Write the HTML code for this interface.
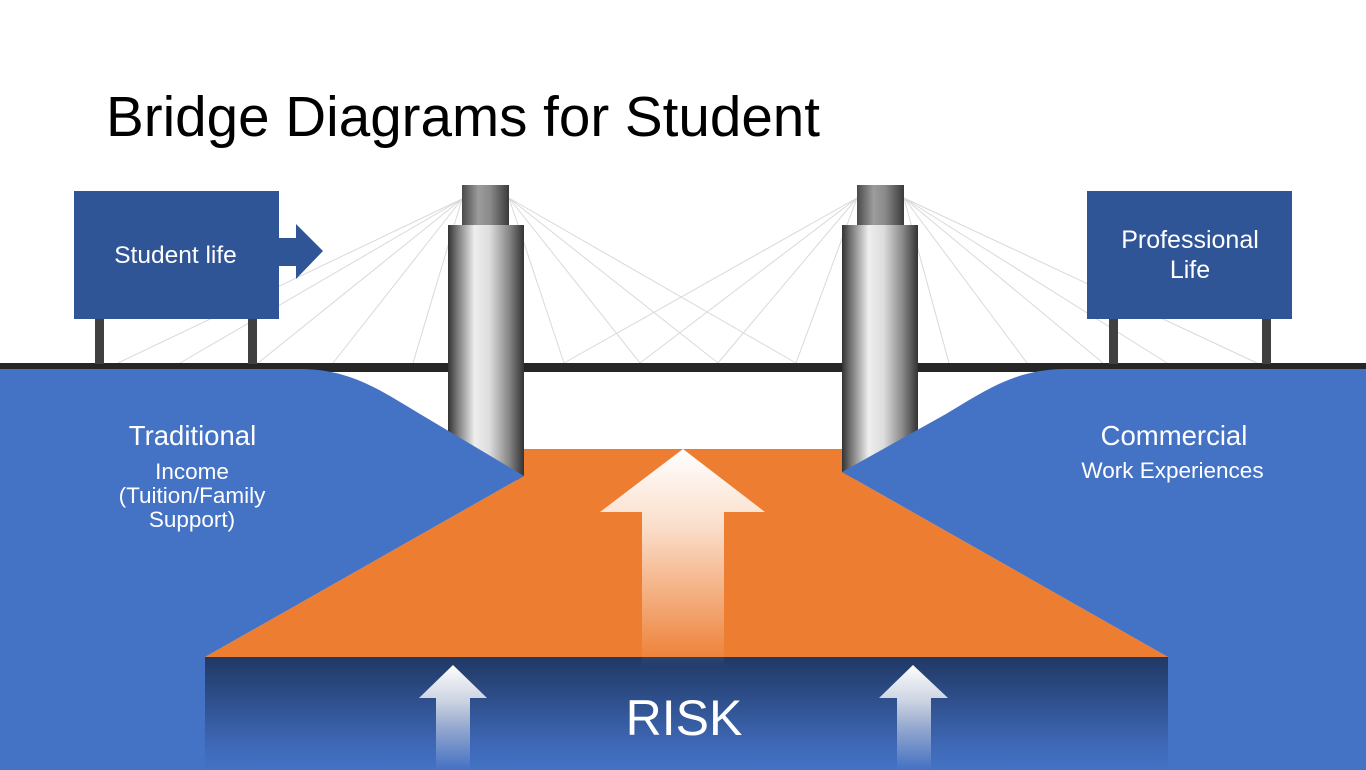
<!DOCTYPE html>
<html><head><meta charset="utf-8"><style>
html,body{margin:0;padding:0;background:#fff;}
svg{display:block;}
</style></head><body>
<svg width="1366" height="770" viewBox="0 0 1366 770" xmlns="http://www.w3.org/2000/svg">
<defs>
<linearGradient id="tw" x1="0" y1="0" x2="1" y2="0">
<stop offset="0" stop-color="#333"/><stop offset="0.12" stop-color="#777"/><stop offset="0.35" stop-color="#eeeeee"/><stop offset="0.55" stop-color="#dcdcdc"/><stop offset="0.8" stop-color="#888"/><stop offset="1" stop-color="#333"/>
</linearGradient>
<linearGradient id="tt" x1="0" y1="0" x2="1" y2="0">
<stop offset="0" stop-color="#4a4a4a"/><stop offset="0.35" stop-color="#9c9c9c"/><stop offset="0.6" stop-color="#8a8a8a"/><stop offset="1" stop-color="#3a3a3a"/>
</linearGradient>
<linearGradient id="risk" x1="0" y1="0" x2="0" y2="1">
<stop offset="0" stop-color="#203864"/><stop offset="0.8" stop-color="#3f69b8"/><stop offset="1" stop-color="#4472c4"/>
</linearGradient>
<linearGradient id="wa" x1="0" y1="0" x2="0" y2="1">
<stop offset="0" stop-color="#fff" stop-opacity="1"/><stop offset="0.35" stop-color="#fff" stop-opacity="0.75"/><stop offset="1" stop-color="#fff" stop-opacity="0"/>
</linearGradient>
</defs>
<rect width="1366" height="770" fill="#fff"/>
<text x="106" y="136" font-family="Liberation Sans, sans-serif" font-size="57" fill="#000" textLength="714" lengthAdjust="spacingAndGlyphs">Bridge Diagrams for Student</text>

<g stroke="#d9d9d9" stroke-width="1" fill="none">
<line x1="462" y1="199" x2="118" y2="363"/>
<line x1="462" y1="199" x2="180" y2="363"/>
<line x1="462" y1="199" x2="258" y2="363"/>
<line x1="462" y1="199" x2="333" y2="363"/>
<line x1="462" y1="199" x2="413" y2="363"/>
<line x1="509" y1="198" x2="564" y2="363"/>
<line x1="509" y1="198" x2="640" y2="363"/>
<line x1="509" y1="198" x2="718" y2="363"/>
<line x1="509" y1="198" x2="796" y2="363"/>
<line x1="857" y1="198" x2="564" y2="363"/>
<line x1="857" y1="198" x2="640" y2="363"/>
<line x1="857" y1="198" x2="718" y2="363"/>
<line x1="857" y1="198" x2="796" y2="363"/>
<line x1="904" y1="198" x2="949" y2="363"/>
<line x1="904" y1="198" x2="1027" y2="363"/>
<line x1="904" y1="198" x2="1103" y2="363"/>
<line x1="904" y1="198" x2="1167" y2="363"/>
<line x1="904" y1="198" x2="1257" y2="363"/>
</g>

<rect x="0" y="363" width="1366" height="9" fill="#262626"/>

<rect x="462" y="185" width="47" height="41" fill="url(#tt)"/>
<rect x="448" y="225" width="76" height="255" fill="url(#tw)"/>
<rect x="857" y="185" width="47" height="41" fill="url(#tt)"/>
<rect x="842" y="225" width="76" height="255" fill="url(#tw)"/>

<polygon points="524,449 842,449 842,472 1168,657 205,657 524,476" fill="#ed7d31"/>

<path d="M0,369 H300 C350,369 380,390 420,414 L524,476 L205,657 L205,770 L0,770 Z" fill="#4472c4"/>
<path d="M1366,369 H1066 C1016,369 986,390 946,414 L842,472 L1168,657 L1168,770 L1366,770 Z" fill="#4472c4"/>

<rect x="205" y="657" width="963" height="113" fill="url(#risk)"/>

<polygon points="683,449 765,512 724,512 724,667 642,667 642,512 600,512" fill="url(#wa)"/>
<polygon points="453,665 487,698 470,698 470,770 436,770 436,698 419,698" fill="url(#wa)"/>
<polygon points="913,665 948,698 931,698 931,770 897,770 897,698 879,698" fill="url(#wa)"/>

<text x="684" y="735" text-anchor="middle" font-family="Liberation Sans, sans-serif" font-size="50" fill="#fff">RISK</text>

<rect x="95" y="318" width="9" height="46" fill="#404040"/>
<rect x="248" y="318" width="9" height="46" fill="#404040"/>
<rect x="74" y="191" width="205" height="128" fill="#2f5597"/>
<polygon points="278,238 296,238 296,224 323,251 296,279 296,266 278,266" fill="#2f5597"/>
<text x="175.5" y="263" text-anchor="middle" font-family="Liberation Sans, sans-serif" font-size="24.5" fill="#fff">Student life</text>

<rect x="1109" y="318" width="9" height="46" fill="#404040"/>
<rect x="1262" y="318" width="9" height="46" fill="#404040"/>
<rect x="1087" y="191" width="205" height="128" fill="#2f5597"/>
<text x="1190" y="248" text-anchor="middle" font-family="Liberation Sans, sans-serif" font-size="25" fill="#fff">Professional</text>
<text x="1190" y="278" text-anchor="middle" font-family="Liberation Sans, sans-serif" font-size="25" fill="#fff">Life</text>

<g font-family="Liberation Sans, sans-serif" fill="#fff" text-anchor="middle">
<text x="192.5" y="445" font-size="27.5">Traditional</text>
<text x="192" y="479" font-size="22.5">Income</text>
<text x="192" y="503" font-size="22.5">(Tuition/Family</text>
<text x="192" y="527" font-size="22.5">Support)</text>
<text x="1174" y="445" font-size="27.5">Commercial</text>
<text x="1172.5" y="478" font-size="22.5">Work Experiences</text>
</g>
</svg>
</body></html>
